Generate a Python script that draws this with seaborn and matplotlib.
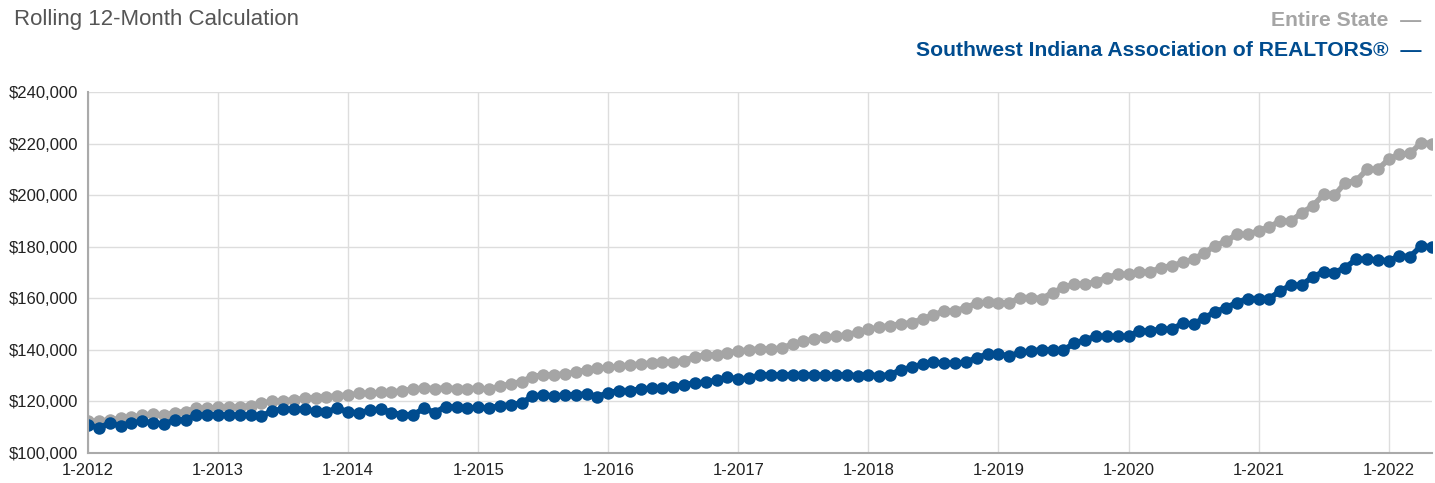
import matplotlib
matplotlib.use("Agg")
import matplotlib.pyplot as plt
import seaborn as sns
import pandas as pd
import numpy as np
from matplotlib.ticker import FuncFormatter, FixedLocator

# ---- data (thousands of dollars), monthly Jan-2012 .. May-2022 ----
state_vals = [
    112.3, 112.3, 112.9, 113.4, 113.8, 114.7, 115.1, 114.7, 115.7, 116.0, 117.3, 117.3,
    117.7, 117.7, 118.0, 118.3, 119.4, 120.0, 120.3, 120.6, 121.2, 121.5, 121.8, 122.2,
    122.5, 123.1, 123.2, 123.5, 123.7, 124.1, 124.8, 125.2, 125.0, 125.2, 125.0, 125.0,
    125.1, 124.8, 125.9, 126.8, 127.7, 129.6, 130.3, 130.3, 130.7, 131.3, 132.3, 132.9,
    133.2, 133.6, 134.2, 134.5, 134.9, 135.2, 135.2, 135.8, 137.4, 138.0, 138.0, 138.8,
    139.5, 140.0, 140.4, 140.4, 140.6, 142.3, 143.3, 144.2, 144.9, 145.3, 145.8, 146.8,
    147.9, 148.8, 149.4, 150.1, 150.5, 152.0, 153.5, 155.1, 155.1, 156.4, 158.1, 158.6,
    158.3, 158.1, 160.3, 160.3, 159.9, 162.2, 164.2, 165.5, 165.5, 166.4, 168.0, 169.3,
    169.3, 170.2, 170.2, 171.9, 172.6, 173.9, 175.1, 177.7, 180.3, 182.2, 184.8, 184.8,
    186.1, 187.7, 190.0, 190.0, 193.2, 195.8, 200.3, 199.9, 204.9, 205.5, 210.0, 210.0,
    213.9, 215.8, 216.2, 220.4, 220.0,
]
swi_vals = [
    111.0, 109.7, 111.6, 110.6, 111.6, 112.3, 111.7, 111.2, 112.8, 112.8, 114.7, 114.8,
    114.8, 114.7, 114.7, 114.7, 114.2, 116.4, 117.0, 117.0, 117.0, 116.1, 116.0, 117.3,
    116.0, 115.5, 116.6, 117.0, 115.7, 114.8, 114.8, 117.3, 115.7, 118.0, 117.7, 117.3,
    117.7, 117.3, 118.4, 118.6, 119.4, 122.0, 122.6, 122.0, 122.5, 122.6, 122.9, 121.9,
    123.3, 124.2, 124.2, 124.8, 125.1, 125.1, 125.5, 126.4, 127.2, 127.4, 128.3, 129.4,
    128.7, 129.0, 130.3, 130.3, 130.3, 130.3, 130.3, 130.3, 130.3, 130.3, 130.3, 130.0,
    130.3, 130.0, 130.3, 132.3, 133.2, 134.5, 135.2, 134.8, 134.8, 135.1, 137.0, 138.3,
    138.3, 137.7, 139.0, 139.6, 140.0, 140.0, 140.0, 142.5, 143.9, 145.2, 145.2, 145.2,
    145.2, 147.4, 147.4, 148.0, 148.0, 150.3, 149.9, 152.5, 154.7, 156.4, 158.3, 159.9,
    159.9, 159.9, 162.9, 165.1, 165.1, 168.4, 170.2, 170.0, 171.9, 175.1, 175.1, 174.9,
    174.5, 176.4, 176.2, 180.3, 180.0,
]
series_names = ["Entire State", "Southwest Indiana Association of REALTORS®"]
x_tick_labels = ["1-2012", "1-2013", "1-2014", "1-2015", "1-2016", "1-2017",
                 "1-2018", "1-2019", "1-2020", "1-2021", "1-2022"]
y_ticks = [100000, 120000, 140000, 160000, 180000, 200000, 220000, 240000]

n = len(state_vals)
months = list(range(n))
df = pd.DataFrame({
    "month": months * 2,
    "value": [v * 1000 for v in state_vals] + [v * 1000 for v in swi_vals],
    "series": [series_names[0]] * n + [series_names[1]] * n,
})

GRAY = "#A5A5A5"
BLUE = "#004C8F"

sns.set_theme(style="white")
plt.rcParams["font.family"] = ["Liberation Sans", "DejaVu Sans"]

fig = plt.figure(figsize=(14.35, 4.83), dpi=100)
ax = fig.add_axes([88 / 1435, 30 / 483, (1432 - 88) / 1435, (453 - 92) / 483])

sns.lineplot(data=df, x="month", y="value", hue="series",
             palette={series_names[0]: GRAY, series_names[1]: BLUE},
             marker="o", markersize=9, markeredgewidth=0, linewidth=4,
             legend=False, ax=ax)

ax.set_xlim(0, n - 1)
ax.set_ylim(100000, 240000)
ax.yaxis.set_major_locator(FixedLocator(y_ticks))
ax.yaxis.set_major_formatter(FuncFormatter(lambda v, p: f"${v:,.0f}"))
ax.set_xticks(list(range(0, n, 12)))
ax.set_xticklabels(x_tick_labels)
ax.set_xlabel("")
ax.set_ylabel("")

ax.grid(True, color="#DDDDDD", linewidth=1)
ax.set_axisbelow(True)
for side in ["top", "right"]:
    ax.spines[side].set_visible(False)
for side in ["left", "bottom"]:
    ax.spines[side].set_color("#AAAAAA")
    ax.spines[side].set_linewidth(1.5)
ax.tick_params(axis="both", colors="#AAAAAA", labelcolor="#222222",
               labelsize=12, length=5, width=1)
ax.tick_params(axis="x", pad=2)
ax.tick_params(axis="y", pad=2)

fig.text(14 / 1435, 1 - 20 / 483, "Rolling 12-Month Calculation",
         fontsize=16, color="#555555", va="center", ha="left")
fig.text(1 - 14 / 1435, 1 - 20 / 483, f"{series_names[0]}  —",
         fontsize=15.2, fontweight="bold", color=GRAY, va="center", ha="right")
fig.text(1 - 14 / 1435, 1 - 51 / 483, f"{series_names[1]}  —",
         fontsize=15.2, fontweight="bold", color=BLUE, va="center", ha="right")

fig.savefig("out.png", dpi=100)
